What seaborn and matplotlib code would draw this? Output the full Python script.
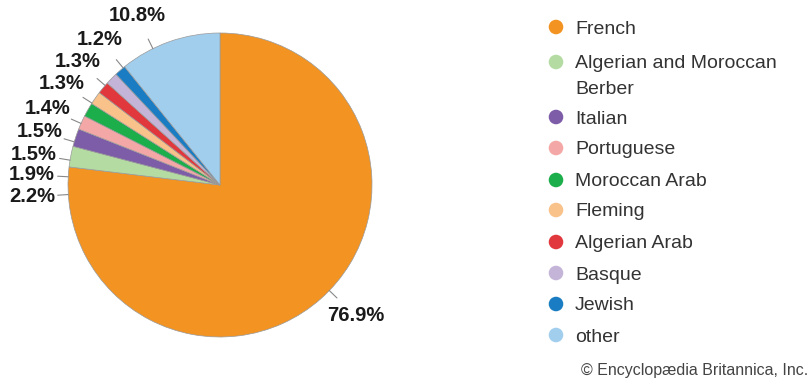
import numpy as np
import matplotlib
matplotlib.use("Agg")
import matplotlib.pyplot as plt
import seaborn as sns

sns.set_theme(style="white")
plt.rcParams['font.family'] = ['Liberation Sans', 'DejaVu Sans']

categories = ["French", "Algerian and Moroccan\nBerber", "Italian", "Portuguese",
              "Moroccan Arab", "Fleming", "Algerian Arab", "Basque", "Jewish", "other"]
shares = [76.9, 2.2, 1.9, 1.5, 1.5, 1.4, 1.3, 1.3, 1.2, 10.8]
pct_labels = ["76.9%", "2.2%", "1.9%", "1.5%", "1.5%", "1.4%", "1.3%", "1.3%", "1.2%", "10.8%"]
colors = ["#F39321", "#B4DCA2", "#7D5CA8", "#F3A7A6", "#1DAE4C",
          "#F8C28A", "#E1383D", "#C4B5D8", "#1A7DC4", "#A2CEEE"]

# layout: angle (degrees) at which each percentage label sits
label_angle = [-44.0, 183.6, 176.9, 170.6, 163.5, 156.1, 147.4, 139.1, 129.6, 116.2]
label_r = 1.24

W, H = 811, 380
fig = plt.figure(figsize=(W / 100, H / 100), dpi=100)
scale = 152.0  # px per data unit
cx, cy = 220.0, 185.0
ax = fig.add_axes([0, 0, 440 / W, 1])
ax.axis('off')

wedges, _ = ax.pie(shares, colors=colors, startangle=90, counterclock=False,
                   radius=1.0, wedgeprops=dict(edgecolor="#9a9a9a", linewidth=0.5))
ax.set_aspect('equal', adjustable='datalim')
ax.set_xlim(-cx / scale, (440 - cx) / scale)
ax.set_ylim(-(H - cy) / scale, cy / scale)

for lab, ang in zip(pct_labels, label_angle):
    a = np.deg2rad(ang)
    x0, y0 = np.cos(a), np.sin(a)
    ax.plot([1.0 * x0, 1.07 * x0], [1.0 * y0, 1.07 * y0], color="#888888", lw=0.8)
    ax.text(label_r * x0, label_r * y0, lab, ha='center', va='center',
            fontsize=14.5, fontweight='bold', color="#1a1a1a")

# legend
lax = fig.add_axes([0, 0, 1, 1])
lax.set_xlim(0, W)
lax.set_ylim(H, 0)
lax.axis('off')
ys = [27, 62, 117, 148, 180, 210, 242, 273, 304, 335]
for name, col, y in zip(categories, colors, ys):
    lax.scatter([556], [y], s=110, color=col, edgecolor='none')
    lines = name.split("\n")
    for k, ln in enumerate(lines):
        lax.text(575, y + 25 * k, ln, ha='left', va='center_baseline', fontsize=14,
                 color="#333333")
lax.text(808, 370, "© Encyclopædia Britannica, Inc.", ha='right', va='center',
         fontsize=11.5, color="#444444")

fig.savefig("out.png", dpi=100)
